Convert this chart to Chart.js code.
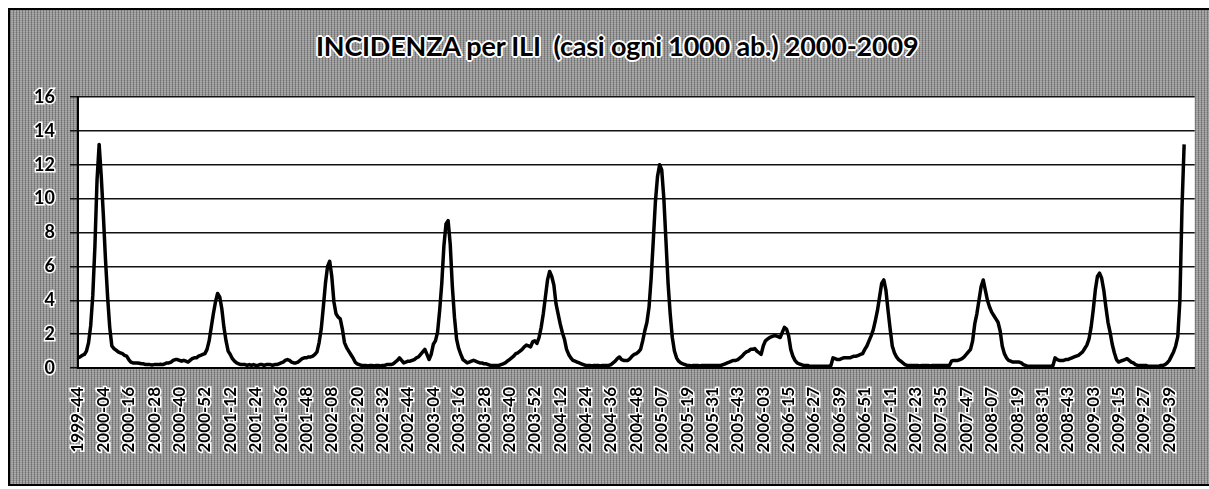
<!DOCTYPE html>
<html>
<head>
<meta charset="utf-8">
<script src="https://cdn.jsdelivr.net/npm/chart.js@4"></script>
<style>
    html, body { margin: 0; padding: 0; background: #fff; overflow: hidden; }
    #frame {
        position: absolute; left: 8px; top: 8px; width: 1201px; height: 478px;
        box-sizing: border-box; border: 2px solid #000; border-right: none;
        background-color: #979797;
        background-image: repeating-linear-gradient(90deg, rgba(0,0,0,.25) 0 1px, transparent 1px 3px),
                          repeating-linear-gradient(0deg, rgba(255,255,255,.18) 0 1px, transparent 1px 2px);
    }
    #title {
        position: absolute; left: 316px; top: 29px; width: 600px; text-align: center; white-space: pre;
        font: bold 27px Lato, sans-serif; color: #000; letter-spacing: -0.2px;
        text-shadow: 2px 0 0 #fff, -2px 0 0 #fff, 0 2px 0 #fff, 0 -2px 0 #fff,
                     1px 1px 0 #fff, -1px -1px 0 #fff, 1px -1px 0 #fff, -1px 1px 0 #fff;
    }
    #chart { position: absolute; left: 0; top: 0; }
</style>
</head>
<body onload="startUp()">
<div id="frame"></div>
<div id="title">INCIDENZA per ILI  (casi ogni 1000 ab.) 2000-2009</div>
<canvas id="chart" width="1209" height="489"></canvas>
<script>
var tickLabels = [      // one label every 12 weeks
    "1999-44", "2000-04", "2000-16", "2000-28", "2000-40", "2000-52", "2001-12", "2001-24",
    "2001-36", "2001-48", "2002-08", "2002-20", "2002-32", "2002-44", "2003-04", "2003-16",
    "2003-28", "2003-40", "2003-52", "2004-12", "2004-24", "2004-36", "2004-48", "2005-07",
    "2005-19", "2005-31", "2005-43", "2006-03", "2006-15", "2006-27", "2006-39", "2006-51",
    "2007-11", "2007-23", "2007-35", "2007-47", "2008-07", "2008-19", "2008-31", "2008-43",
    "2009-03", "2009-15", "2009-27", "2009-39"
];

var weeksPerTick = 12;

// weekly incidence, one row per tick label (12 weeks each)
var incidence = [
    0.6, 0.65, 0.75, 0.8, 1.0, 1.5, 2.5, 4.3, 7.2, 11.1, 13.2, 11.3,          // 1999-44
    9.0, 6.4, 4.2, 2.4, 1.3, 1.15, 1.05, 0.95, 0.9, 0.85, 0.75, 0.7,          // 2000-04
    0.5, 0.35, 0.3, 0.3, 0.3, 0.28, 0.25, 0.25, 0.2, 0.2, 0.2, 0.18,          // 2000-16
    0.2, 0.2, 0.2, 0.22, 0.2, 0.25, 0.3, 0.3, 0.35, 0.45, 0.5, 0.5,           // 2000-28
    0.45, 0.4, 0.45, 0.4, 0.35, 0.45, 0.55, 0.6, 0.6, 0.7, 0.75, 0.8,         // 2000-40
    0.85, 1.1, 1.6, 2.4, 3.2, 3.9, 4.4, 4.2, 3.5, 2.4, 1.6, 1.0,              // 2000-52
    0.8, 0.55, 0.4, 0.3, 0.25, 0.2, 0.2, 0.2, 0.15, 0.2, 0.15, 0.2,           // 2001-12
    0.15, 0.15, 0.2, 0.2, 0.15, 0.2, 0.2, 0.2, 0.15, 0.2, 0.2, 0.25,          // 2001-24
    0.3, 0.35, 0.45, 0.5, 0.45, 0.35, 0.3, 0.3, 0.35, 0.45, 0.55, 0.6,        // 2001-36
    0.6, 0.65, 0.65, 0.7, 0.8, 0.95, 1.5, 2.3, 3.6, 5.0, 6.0, 6.3,            // 2001-48
    5.4, 3.9, 3.2, 3.0, 2.9, 2.3, 1.5, 1.2, 1.0, 0.8, 0.6, 0.35,              // 2002-08
    0.25, 0.2, 0.15, 0.15, 0.15, 0.12, 0.15, 0.15, 0.12, 0.15, 0.15, 0.12,    // 2002-20
    0.15, 0.15, 0.2, 0.2, 0.2, 0.25, 0.35, 0.45, 0.6, 0.45, 0.3, 0.35,        // 2002-32
    0.4, 0.4, 0.45, 0.5, 0.6, 0.65, 0.8, 0.95, 1.1, 0.8, 0.5, 0.8,            // 2002-44
    1.4, 1.6, 2.1, 3.4, 5.0, 7.2, 8.5, 8.7, 7.3, 4.8, 3.0, 1.7,               // 2003-04
    1.15, 0.8, 0.5, 0.4, 0.3, 0.35, 0.4, 0.45, 0.4, 0.35, 0.3, 0.3,           // 2003-16
    0.25, 0.25, 0.2, 0.15, 0.15, 0.15, 0.15, 0.15, 0.2, 0.25, 0.3, 0.4,       // 2003-28
    0.5, 0.6, 0.7, 0.85, 0.9, 1.0, 1.1, 1.25, 1.35, 1.3, 1.25, 1.55,          // 2003-40
    1.6, 1.45, 1.8, 2.4, 3.2, 4.2, 5.2, 5.7, 5.4, 4.9, 3.8, 3.2,              // 2003-52
    2.6, 2.1, 1.7, 1.1, 0.8, 0.6, 0.45, 0.4, 0.35, 0.3, 0.25, 0.2,            // 2004-12
    0.15, 0.15, 0.15, 0.12, 0.15, 0.15, 0.15, 0.12, 0.15, 0.15, 0.15, 0.15,   // 2004-24
    0.2, 0.3, 0.4, 0.55, 0.65, 0.5, 0.45, 0.45, 0.45, 0.55, 0.7, 0.8,         // 2004-36
    0.85, 0.95, 1.1, 1.6, 2.2, 2.7, 3.6, 5.3, 7.5, 9.8, 11.3, 12.0,           // 2004-48
    11.7, 10.0, 7.5, 5.0, 3.2, 1.8, 1.0, 0.6, 0.4, 0.3, 0.25, 0.2,            // 2005-07
    0.15, 0.15, 0.12, 0.15, 0.15, 0.15, 0.12, 0.15, 0.15, 0.15, 0.15, 0.15,   // 2005-19
    0.15, 0.15, 0.15, 0.15, 0.15, 0.2, 0.25, 0.3, 0.35, 0.4, 0.45, 0.45,      // 2005-31
    0.5, 0.6, 0.7, 0.85, 0.95, 1.0, 1.1, 1.1, 1.15, 1.0, 0.9, 0.8,            // 2005-43
    1.3, 1.6, 1.7, 1.8, 1.85, 1.9, 1.9, 1.85, 1.8, 2.1, 2.4, 2.3,             // 2006-03
    1.9, 1.1, 0.7, 0.45, 0.3, 0.25, 0.2, 0.15, 0.15, 0.15, 0.1, 0.1,          // 2006-15
    0.1, 0.1, 0.1, 0.1, 0.1, 0.1, 0.1, 0.1, 0.15, 0.6, 0.55, 0.5,             // 2006-27
    0.5, 0.55, 0.6, 0.6, 0.6, 0.6, 0.65, 0.7, 0.7, 0.75, 0.8, 0.85,           // 2006-39
    1.1, 1.3, 1.6, 1.9, 2.25, 2.8, 3.4, 4.2, 5.0, 5.2, 4.6, 3.4,              // 2006-51
    2.3, 1.3, 0.9, 0.65, 0.5, 0.4, 0.3, 0.2, 0.15, 0.15, 0.15, 0.15,          // 2007-11
    0.15, 0.15, 0.12, 0.15, 0.15, 0.15, 0.15, 0.12, 0.15, 0.15, 0.15, 0.15,   // 2007-23
    0.15, 0.15, 0.15, 0.15, 0.15, 0.4, 0.45, 0.45, 0.45, 0.5, 0.55, 0.65,     // 2007-35
    0.8, 0.95, 1.1, 1.6, 2.6, 3.2, 4.0, 4.8, 5.2, 4.6, 4.0, 3.6,              // 2007-47
    3.3, 3.1, 2.9, 2.7, 2.2, 1.3, 0.85, 0.6, 0.45, 0.4, 0.35, 0.35,           // 2008-07
    0.35, 0.35, 0.3, 0.2, 0.15, 0.1, 0.1, 0.1, 0.1, 0.1, 0.1, 0.1,            // 2008-19
    0.1, 0.1, 0.1, 0.1, 0.1, 0.15, 0.6, 0.5, 0.45, 0.45, 0.45, 0.5,           // 2008-31
    0.5, 0.55, 0.6, 0.65, 0.7, 0.75, 0.85, 0.95, 1.15, 1.35, 1.7, 2.4,        // 2008-43
    3.4, 4.6, 5.4, 5.6, 5.3, 4.6, 3.6, 2.7, 2.1, 1.4, 0.9, 0.5,               // 2009-03
    0.35, 0.4, 0.45, 0.5, 0.55, 0.45, 0.35, 0.3, 0.2, 0.15, 0.15, 0.15,       // 2009-15
    0.15, 0.15, 0.1, 0.1, 0.1, 0.1, 0.1, 0.1, 0.15, 0.15, 0.2, 0.3,           // 2009-27
    0.45, 0.7, 0.95, 1.3, 1.85, 4.0, 9.5, 13.2                                // 2009-39
];

var weekSlots = 528;    // x axis runs a few empty weeks past the last value
var yMax = 16;
var yStep = 2;

var incidenceChart;

// white plot area over the grey background
var plotBackground = {
    id: 'plotBackground',
    beforeDraw: function (chart) {
        var a = chart.chartArea;
        var ctx = chart.ctx;
        ctx.save();
        ctx.fillStyle = '#ffffff';
        ctx.fillRect(a.left, a.top, a.right - a.left, a.bottom - a.top);
        ctx.restore();
    }
};

function startUp() {
    Chart.defaults.font.family = 'Lato, sans-serif';
    var points = [];
    for (var i = 0; i < incidence.length; i++) {
        points.push({ x: i, y: incidence[i] });
    }
    var ctx = document.getElementById('chart');
    incidenceChart = new Chart(ctx, {
        type: 'line',
        data: {
            datasets: [{
                label: 'ILI',
                data: points,
                borderColor: '#000000',
                borderWidth: 3.5,
                borderJoinStyle: 'round',
                pointRadius: 0,
                fill: false,
                tension: 0
            }]
        },
        options: {
            responsive: false,
            animation: false,
            layout: { padding: { top: 97, right: 12, left: 0, bottom: 0 } },
            plugins: {
                legend: { display: false },
                tooltip: { enabled: false }
            },
            scales: {
                x: {
                    type: 'linear',
                    min: 0,
                    max: weekSlots,
                    afterBuildTicks: function (scale) {
                        scale.ticks = tickLabels.map(function (l, k) { return { value: k * weeksPerTick }; });
                    },
                    afterFit: function (scale) { scale.height = 121; },
                    grid: { display: false, drawTicks: false },
                    border: { display: true, color: '#000000', width: 2 },
                    ticks: {
                        autoSkip: false,
                        maxRotation: 90,
                        minRotation: 90,
                        padding: 19,
                        color: '#000000',
                        textStrokeColor: '#ffffff',
                        textStrokeWidth: 3,
                        font: { size: 17, weight: 'bold' },
                        callback: function (value) { return tickLabels[value / weeksPerTick] || ''; }
                    }
                },
                y: {
                    min: 0,
                    max: yMax,
                    afterFit: function (scale) { scale.width = 78; },
                    grid: { color: '#111111', lineWidth: 1.5, drawTicks: true, tickLength: 8 },
                    border: { display: true, color: '#000000', width: 2 },
                    ticks: {
                        stepSize: yStep,
                        padding: 15,
                        color: '#000000',
                        textStrokeColor: '#ffffff',
                        textStrokeWidth: 3,
                        font: { size: 18, weight: 'bold' }
                    }
                }
            }
        },
        plugins: [plotBackground]
    });
}
</script>
</body>
</html>
